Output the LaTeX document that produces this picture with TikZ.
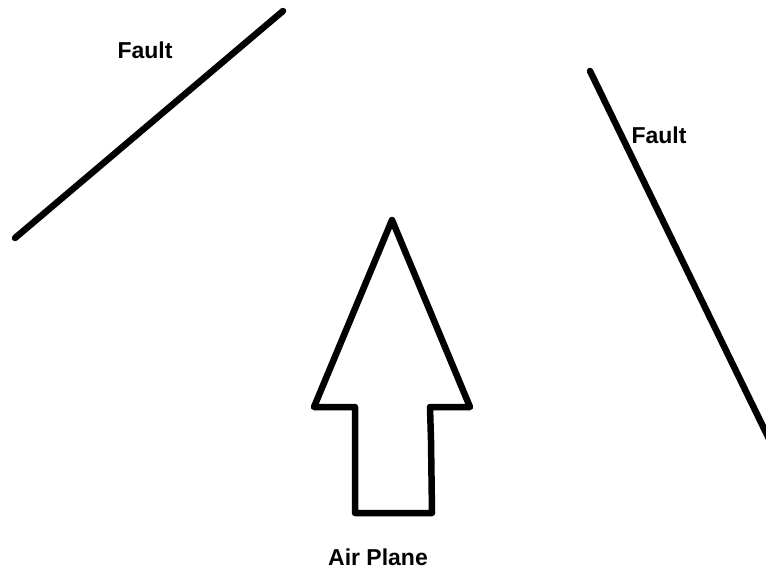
\documentclass[tikz,border=0pt]{standalone}
\usepackage{fontspec}
\setmainfont{Liberation Sans}
\tikzset{
  stroke/.style={line width=6.5pt, line cap=round, line join=round, black},
  lbl/.style={font=\fontsize{23}{26}\selectfont\bfseries, text=black, inner sep=0pt}
}
\begin{document}
\begin{tikzpicture}[x=1pt, y=-1pt]
\useasboundingbox (0,0) rectangle (766,573);
\clip (0,0) rectangle (766,573);
% left fault
\coordinate (f1a) at (15,238);
\coordinate (f1b) at (283,11);
\draw[stroke] (f1a) -- (f1b);
\node[lbl] (t1) at (145,50) {Fault};
% right fault
\coordinate (f2a) at (590,71);
\coordinate (f2b) at (772,445);
\draw[stroke] (f2a) -- (f2b);
\node[lbl] (t2) at (659,135) {Fault};
% arrow
\coordinate (tip) at (392,220);
\coordinate (hl) at (314,407);
\coordinate (sl) at (355,407);
\coordinate (bl) at (355,513);
\coordinate (br) at (432,513);
\coordinate (sr) at (430,407);
\coordinate (hr) at (470,407);
\draw[stroke] (tip) -- (hl) -- (sl) -- (bl) -- (br) -- (431,440) -- (sr) -- (hr) -- cycle;
\node[lbl] (t3) at (378,557) {Air Plane};
\end{tikzpicture}
\end{document}
